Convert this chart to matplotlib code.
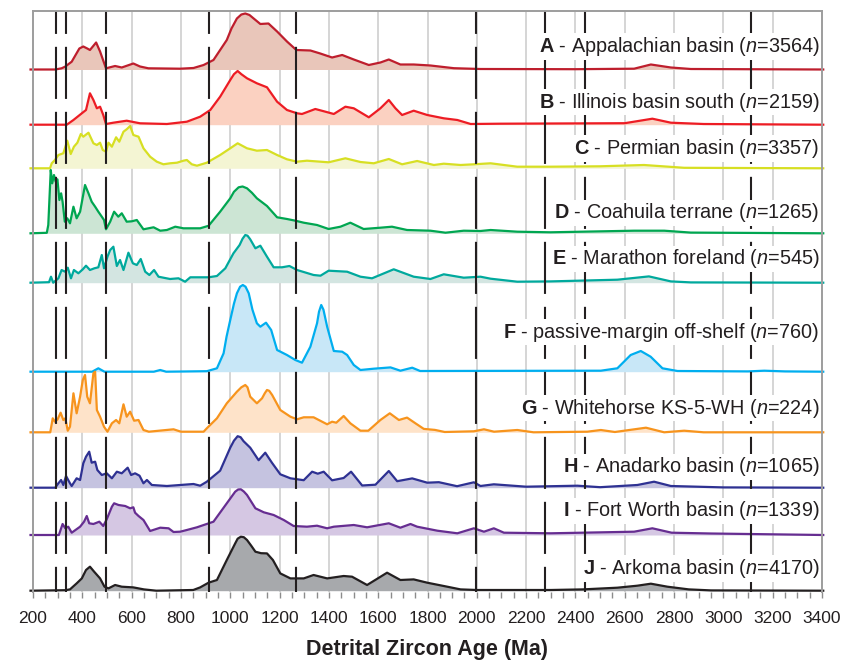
import matplotlib
matplotlib.use("Agg")
import matplotlib.pyplot as plt

plt.rcParams["font.family"] = ["Liberation Sans", "DejaVu Sans"]
plt.rcParams["mathtext.fontset"] = "custom"
plt.rcParams["mathtext.rm"] = "Liberation Sans"
plt.rcParams["mathtext.it"] = "Liberation Sans:italic"
plt.rcParams["mathtext.bf"] = "Liberation Sans:bold"

LETTERS = ["A", "B", "C", "D", "E", "F", "G", "H", "I", "J"]
NAMES = ["Appalachian basin", "Illinois basin south", "Permian basin", "Coahuila terrane", "Marathon foreland",
         "passive-margin off-shelf", "Whitehorse KS-5-WH", "Anadarko basin", "Fort Worth basin", "Arkoma basin"]
N_GRAINS = [3564, 2159, 3357, 1265, 545, 760, 224, 1065, 1339, 4170]

LINE_COLORS = ["#BE1E2D", "#ED1C24", "#D7DF23", "#00A651", "#00A99D", "#00AEEF", "#F7941D", "#2E3192", "#662D91", "#231F20"]
FILL_COLORS = ["#E9C6BA", "#FBD1C1", "#F4F5D3", "#CCE5D4", "#D3E5E1", "#C8E7F7", "#FEE3C9", "#C5C3E0", "#D5C7E3", "#A7A9AC"]

# boundary ages marked by the dashed lines (Ma)
BOUNDARIES = [292, 333, 496, 913, 1268, 1995, 2276, 2438, 3112]

# probability density curves (age in Ma, relative density)
AGES_A = [190, 290, 316, 330, 357, 388, 404, 420, 431, 456, 472, 496, 533, 560, 607, 634, 668, 797, 851, 892, 932, 986,
          1005, 1027, 1045, 1061, 1078, 1095, 1122, 1155, 1190, 1230, 1268, 1325, 1365, 1413, 1454, 1501, 1562, 1609,
          1643, 1690, 1744, 1812, 1907, 2015, 2400, 2638, 2706, 2787, 2868, 3405]
DENS_A = [0, 0, 1.2, 2.8, 7.8, 21, 23, 21, 19.5, 27, 18, 1.2, 3.5, 2, 6, 3, 1.2, 0.8, 1.5, 4.5, 9.5, 29.5,
          41, 51, 55, 56, 54.5, 51, 45.5, 46, 38, 28, 19.5, 19, 16, 12, 14.5, 10, 4.5, 7,
          10, 5, 5, 4, 1.3, 0.5, 0.3, 0.8, 5, 2, 0.5, 0]

AGES_B = [190, 337, 364, 398, 415, 431, 445, 459, 472, 485, 496, 526, 580, 634, 743, 824, 878, 919, 959, 1000, 1015,
          1030, 1045, 1068, 1108, 1149, 1190, 1230, 1271, 1291, 1345, 1386, 1420, 1467, 1501, 1562, 1609, 1643, 1670,
          1697, 1744, 1799, 1866, 1921, 1975, 2096, 2600, 2712, 2787, 2920, 3405]
DENS_B = [0, 0, 4.7, 11.4, 14.7, 31.4, 24.7, 16.4, 18, 9.7, 0.7, 2, 4, 1.4, 0.7, 3, 8, 14.7, 28, 44.7, 50.5,
          53.7, 50.5, 46.4, 41.4, 37.4, 23, 14.7, 11.4, 10.7, 15.7, 13, 10.7, 18, 16.4, 7.4, 16.4, 24.7, 16.4,
          9.7, 14, 9.7, 6.4, 4.7, 0.7, 1, 1.5, 6, 2, 0.7, 0]

AGES_C = [190, 269, 276, 289, 303, 323, 339, 353, 366, 380, 394, 404, 425, 445, 459, 472, 483, 496, 506, 520, 537,
          550, 567, 580, 594, 607, 628, 648, 675, 702, 729, 756, 784, 810, 824, 844, 865, 905, 959, 1000, 1030, 1068,
          1108, 1149, 1190, 1230, 1271, 1311, 1399, 1467, 1528, 1582, 1643, 1697, 1758, 1826, 1866, 1934, 1988, 2056,
          2164, 2299, 2500, 2678, 2841, 3405]
DENS_C = [0, 0, 5, 8.3, 13.3, 15, 27.6, 14.3, 21.6, 25.6, 34.3, 31.6, 35.6, 25, 23.3, 25.6, 18.3, 16.6, 25.6, 21.6, 31,
          26.6, 36.6, 39, 42.3, 33.3, 31.6, 20, 11.6, 6.6, 4, 5, 5.6, 7.6, 8.3, 4, 2.6, 5.6, 13.3, 20, 25, 20,
          17.6, 18.3, 13.3, 9, 6.6, 7.6, 6, 10, 6.3, 5, 9.3, 4, 7.3, 3.3, 4.6, 3.3, 4, 5,
          1.6, 1.6, 2, 3.3, 0.5, 0]

AGES_D = [190, 256, 262, 272, 278, 285, 292, 299, 307, 314, 320, 329, 339, 350, 364, 377, 391, 411, 425, 438, 452,
          465, 479, 488, 496, 513, 529, 546, 560, 580, 601, 621, 648, 689, 716, 743, 777, 810, 878, 912, 959, 1000,
          1015, 1034, 1050, 1068, 1088, 1108, 1149, 1190, 1230, 1264, 1298, 1352, 1399, 1447, 1487, 1541, 1609, 1656,
          1717, 1812, 1873, 1947, 2015, 2056, 2164, 2299, 2638, 2760, 2868, 3405]
DENS_D = [0, 0.5, 8.3, 63.3, 50, 58.3, 51.6, 54, 33.3, 40, 31.6, 11.6, 15, 10, 26.6, 15, 21.6, 48.3, 40, 31.6, 26.6,
          21.6, 16.6, 13.3, 4, 11.6, 21.6, 16.6, 20, 11.6, 12, 13.3, 4, 6, 2.6, 3.3, 6.6, 5, 5, 7.5, 21.6, 35,
          41.5, 46, 46.8, 45, 40.5, 35, 27.3, 16, 14.3, 12.6, 10.6, 8.3, 4.3, 6.6, 10.6, 4.3, 5.6, 6.6,
          3.3, 2.6, 0.6, 2.6, 2.3, 3.3, 1.6, 1, 2.6, 2.6, 0.7, 0]

AGES_E = [190, 265, 273, 282, 303, 316, 330, 341, 354, 366, 384, 402, 415, 431, 449, 465, 479, 488, 502, 513, 526,
          540, 553, 567, 587, 605, 621, 637, 655, 672, 691, 709, 729, 756, 790, 817, 838, 878, 912, 946, 980, 1013,
          1038, 1050, 1061, 1070, 1081, 1102, 1122, 1149, 1176, 1210, 1240, 1271, 1338, 1366, 1399, 1474, 1528, 1575,
          1663, 1744, 1812, 1866, 1947, 2015, 2056, 2164, 2299, 2570, 2698, 2787, 2868, 3405]
DENS_E = [0, 0.5, 6, 0, 4.4, 12.7, 11, 15, 4.4, 12.7, 9.4, 13.4, 17, 12.7, 14.4, 15.4, 27.7, 14.4, 26, 32.7, 36,
          16.7, 22.7, 12.7, 30, 19.4, 17.7, 23.7, 11, 7.7, 12.7, 6, 5, 3.7, 4.4, 1, 5.4, 5.4, 5.4, 6.7, 14.4, 29.4,
          37.7, 44, 47.7, 47, 43.4, 34.4, 37, 26, 15.4, 15.4, 16.7, 12.7, 7.7, 7, 12, 11, 6, 4.4,
          13.4, 6, 3.7, 8.4, 5, 6, 4, 1, 1.3, 3, 6.3, 1.3, 0.3, 0]

AGES_F = [190, 440, 465, 490, 690, 716, 740, 905, 946, 973, 985, 1000, 1015, 1027, 1040, 1051, 1062, 1075, 1090,
          1108, 1122, 1145, 1166, 1190, 1230, 1264, 1291, 1325, 1352, 1360, 1369, 1378, 1393, 1420, 1454, 1474, 1501,
          1528, 1582, 1650, 1690, 1738, 1770, 2503, 2570, 2624, 2665, 2705, 2753, 2814, 3100, 3166, 3250, 3405]
DENS_F = [0, 0, 3.4, 0, 0, 1.7, 0, 0.5, 3.4, 18.4, 35, 51.7, 68, 78.4, 85, 86.7, 85, 78.4, 62,
          48.4, 45, 49, 41.7, 21.7, 16.7, 11.7, 9, 25, 48.4, 60, 66.7, 62, 45, 20.7, 20, 16.7, 6.7,
          1.7, 3, 4.3, 1, 4, 0.7, 1, 3.4, 16.7, 20.7, 15, 3.4, 0.7, 0.3, 1, 0.3, 0]

AGES_G = [190, 270, 280, 289, 300, 312, 323, 331, 341, 350, 364, 377, 391, 402, 411, 420, 431, 445, 452, 459, 472,
          488, 502, 520, 537, 550, 567, 580, 594, 610, 628, 648, 670, 770, 800, 892, 905, 946, 986, 1027, 1045, 1061,
          1070, 1081, 1108, 1129, 1140, 1149, 1158, 1170, 1203, 1244, 1271, 1298, 1338, 1393, 1413, 1430, 1460, 1487,
          1528, 1560, 1609, 1647, 1684, 1717, 1751, 1785, 1830, 1870, 1988, 2029, 2070, 2164, 2230, 2448, 2503, 2560,
          2686, 2760, 2841, 2920, 3405]
DENS_G = [0, 0, 14, 10.6, 13, 19.6, 12.3, 14, 1.6, 5.6, 39, 19, 35.6, 52.3, 57.3, 35.6, 29, 59, 60.6, 22.3, 15.6,
          5.6, 0.6, 9, 12.3, 9, 28, 15.6, 20.6, 11.6, 12.3, 2.3, 0.6, 3, 0.6, 0.6, 4, 14, 29, 40.6, 45, 47.3,
          45, 35.6, 29, 34, 39, 42.3, 41.5, 37.3, 22.3, 15.6, 13, 15, 15, 8, 10.6, 9.6, 16.3, 9,
          1.6, 1.6, 12.3, 19, 12.3, 14.7, 9, 3.4, 2.4, 0.3, 1, 3, 0.6, 2.3, 0, 0.6, 2.3, 0.3,
          4.6, 0, 1.6, 0, 0]

AGES_H = [190, 290, 303, 314, 323, 334, 350, 357, 377, 391, 404, 415, 428, 438, 452, 461, 479, 499, 520, 540, 560,
          584, 598, 614, 632, 648, 662, 682, 743, 851, 878, 905, 959, 1000, 1015, 1030, 1042, 1054, 1081, 1115, 1142,
          1169, 1203, 1244, 1298, 1332, 1355, 1379, 1413, 1460, 1490, 1535, 1589, 1643, 1677, 1738, 1799, 1846, 1920,
          1988, 2015, 2069, 2200, 2408, 2500, 2651, 2719, 2787, 3000, 3405]
DENS_H = [0, 0, 4.4, 7.7, 2.7, 11.7, 4.4, 1.7, 9.4, 7.7, 24.4, 31, 36, 25, 26, 17.7, 12.7, 14.4, 9.4, 16, 14.4,
          20, 12.7, 14.4, 12, 4.4, 7.7, 2.7, 1.7, 3.7, 2, 6, 17, 40, 47, 51.5, 50.5, 46.5, 40, 27.5, 35,
          25, 13.4, 9.4, 7.5, 16, 14, 16, 7.4, 9.7, 16, 2.2, 3, 16.7, 6.5, 9.3, 5, 5.5, 1.5,
          5.4, 1.7, 3.4, 1, 2, 0.5, 2.7, 6, 1.7, 0.3, 0]

AGES_I = [190, 305, 320, 331, 343, 357, 391, 407, 418, 428, 445, 469, 485, 499, 520, 529, 547, 574, 594, 607, 614,
          628, 648, 675, 716, 750, 770, 797, 824, 865, 932, 986, 1020, 1032, 1043, 1055, 1068, 1102, 1136, 1176, 1217,
          1257, 1311, 1352, 1393, 1420, 1501, 1555, 1643, 1690, 1731, 1758, 1840, 1921, 1988, 2029, 2069, 2110, 2300,
          2638, 2712, 2790, 2950, 3405]
DENS_I = [0, 0, 11, 6.7, 8.3, 2.3, 8.3, 13.3, 19, 11.7, 11, 13.3, 9, 15.7, 28.3, 31.7, 30, 29, 26.7, 27.7, 22.3,
          19, 15, 4, 7.3, 6.7, 3, 3.3, 5, 7.7, 13.3, 31.7, 43.3, 45.5, 45.7, 43.5, 40, 26.7, 22.7, 20, 15,
          9, 8.3, 9.3, 6.7, 8.3, 10, 7.7, 11.7, 7.3, 11, 8.3, 4.3, 1.7, 6.7, 3.3, 6.7, 2.3, 1.7,
          3.3, 6.7, 2.3, 1.5, 0]

AGES_J = [190, 330, 350, 377, 398, 415, 431, 448, 472, 490, 506, 533, 560, 607, 650, 700, 850, 878, 912, 946, 986,
          1020, 1030, 1043, 1055, 1068, 1085, 1102, 1125, 1149, 1173, 1203, 1244, 1298, 1338, 1393, 1460, 1494, 1555,
          1636, 1690, 1744, 1799, 1880, 1934, 2000, 2300, 2430, 2570, 2651, 2706, 2773, 2860, 2950, 3405]
DENS_J = [0, 0.5, 1.3, 7.3, 12.3, 20.7, 24, 19, 12.3, 4, 2.3, 5.7, 4, 3.3, 1.3, 0, 0.7, 3.3, 8, 10.7, 30.7,
          47.3, 52, 54, 53.5, 50.7, 45, 39, 37.5, 37.3, 30.7, 17.3, 12.3, 12.3, 15.7, 12.3, 14.7, 14, 5.7,
          18, 10.7, 11.3, 8, 4, 1.3, 0.7, 0.7, 1.3, 3, 5, 7, 4, 1.3, 0.3, 0]

AGES = [AGES_A, AGES_B, AGES_C, AGES_D, AGES_E, AGES_F, AGES_G, AGES_H, AGES_I, AGES_J]
DENS = [DENS_A, DENS_B, DENS_C, DENS_D, DENS_E, DENS_F, DENS_G, DENS_H, DENS_I, DENS_J]

# layout: vertical offset of each curve and of its label
BASELINES = [522.5, 467.3, 423.7, 358.7, 309.3, 220.3, 159.7, 104.3, 57, 1.3]
LABEL_Y = [545.5, 490, 443.5, 379, 333, 260, 184, 125, 81, 23.5]


def main():
    fig = plt.figure(figsize=(8.42, 6.65), dpi=100)
    ax = fig.add_axes([33 / 842, 73 / 665, 789 / 842, 581 / 665])
    ax.set_xlim(200, 3400)
    ax.set_ylim(0, 581)

    for x in range(400, 3400, 200):
        ax.axvline(x, color="#CACACA", lw=1.1, zorder=0)

    for i in range(len(LETTERS)):
        base = BASELINES[i]
        top = [base + d for d in DENS[i]]
        ax.fill_between(AGES[i], base, top, color=FILL_COLORS[i], lw=0, zorder=1, clip_on=False)
        ax.plot(AGES[i], top, color=LINE_COLORS[i], lw=1.6, zorder=2, clip_on=False, solid_joinstyle="round")

    for b in BOUNDARIES:
        ax.plot([b, b], [581, 0], color="#231F20", lw=1.5, linestyle=(14, (25, 6.2)), zorder=3)

    # labels sit on a white box that knocks out the grid and dashed lines behind them
    for i in range(len(LETTERS)):
        label = rf"$\mathbf{{{LETTERS[i]}}}$ - {NAMES[i]} ($\mathit{{n}}$={N_GRAINS[i]})"
        ax.text(3390, LABEL_Y[i], label, ha="right", va="center", fontsize=14.3, color="#231F20", zorder=5,
                bbox=dict(facecolor="white", edgecolor="none", pad=1.5))

    for side in ["top", "left", "right"]:
        ax.spines[side].set_color("#9D9D9D")
        ax.spines[side].set_linewidth(1.4)
        ax.spines[side].set_zorder(6)
    ax.spines["bottom"].set_visible(False)
    ax.set_yticks([])
    ax.set_xticks(range(200, 3401, 200))
    ax.set_xticks(range(250, 3400, 50), minor=True)
    ax.tick_params(axis="x", which="both", direction="out", length=4, width=1, color="#8C8C8C",
                   labelsize=12.5, pad=10, labelcolor="#231F20")
    ax.set_xlabel("Detrital Zircon Age (Ma)", fontsize=15.5, fontweight="bold", labelpad=9, color="#231F20")

    fig.savefig("out.png", dpi=100)
    plt.close(fig)


if __name__ == "__main__":
    main()
